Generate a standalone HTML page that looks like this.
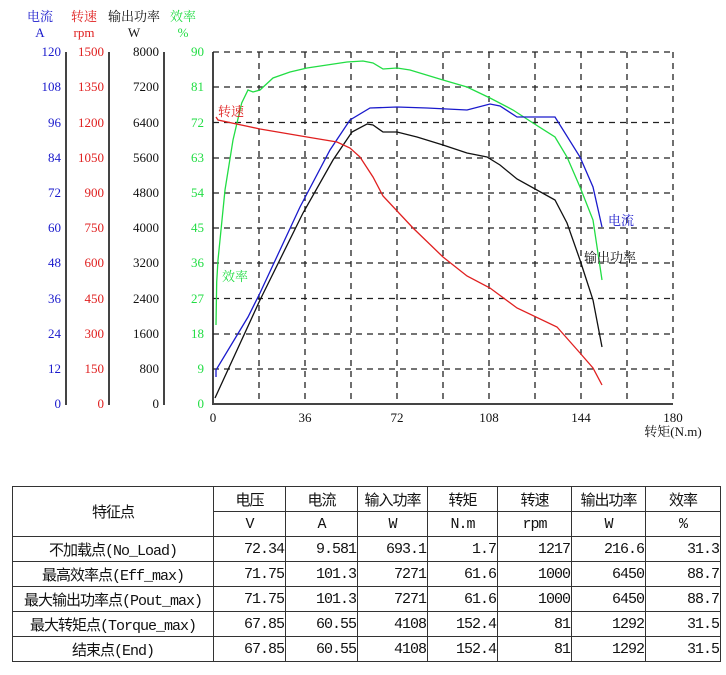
<!DOCTYPE html>
<html><head><meta charset="utf-8"><style>
body{margin:0;background:#fff;width:726px;height:675px;overflow:hidden;position:relative}
svg{position:absolute;left:0;top:0}
table{position:absolute;left:12px;top:486px;border-collapse:collapse;table-layout:fixed;width:708px;font-family:"Liberation Mono","Noto Sans CJK SC",monospace;font-size:15px;color:#111}
td{border:1px solid #333;height:24px;padding:0 1px;text-align:right;white-space:nowrap;letter-spacing:-1px;overflow:hidden}
td.c{text-align:center}
</style></head><body>
<svg width="726" height="470" font-family="'Liberation Serif','Noto Serif CJK SC',serif" font-size="13">
<g font-size="13" text-anchor="middle">
<text x="40" y="21" fill="#1a1acc">电流</text><text x="40" y="37" fill="#1a1acc">A</text>
<text x="84" y="21" fill="#e02020">转速</text><text x="84" y="37" fill="#e02020">rpm</text>
<text x="134" y="21" fill="#111">输出功率</text><text x="134" y="37" fill="#111">W</text>
<text x="183" y="21" fill="#22dd44">效率</text><text x="183" y="37" fill="#22dd44">%</text>
</g>
<g stroke="#444" stroke-width="2"><line x1="66" y1="52" x2="66" y2="405"/><line x1="109" y1="52" x2="109" y2="405"/><line x1="164" y1="52" x2="164" y2="405"/><line x1="213" y1="52" x2="213" y2="405"/><line x1="212" y1="404" x2="673" y2="404"/></g>
<g stroke="#222" stroke-width="1.3" stroke-dasharray="6,5">
<line x1="213" y1="52" x2="673" y2="52"/><line x1="213" y1="87" x2="673" y2="87"/><line x1="213" y1="122.5" x2="673" y2="122.5"/><line x1="213" y1="158" x2="673" y2="158"/><line x1="213" y1="193" x2="673" y2="193"/><line x1="213" y1="228" x2="673" y2="228"/><line x1="213" y1="263" x2="673" y2="263"/><line x1="213" y1="298.5" x2="673" y2="298.5"/><line x1="213" y1="334" x2="673" y2="334"/><line x1="213" y1="369" x2="673" y2="369"/>
<line x1="259" y1="52" x2="259" y2="404"/><line x1="305" y1="52" x2="305" y2="404"/><line x1="351" y1="52" x2="351" y2="404"/><line x1="397" y1="52" x2="397" y2="404"/><line x1="443" y1="52" x2="443" y2="404"/><line x1="489" y1="52" x2="489" y2="404"/><line x1="535" y1="52" x2="535" y2="404"/><line x1="581" y1="52" x2="581" y2="404"/><line x1="627" y1="52" x2="627" y2="404"/><line x1="673" y1="52" x2="673" y2="404"/>
</g>
<g text-anchor="end">
<g fill="#1a1acc"><text x="61" y="56">120</text><text x="61" y="91">108</text><text x="61" y="127">96</text><text x="61" y="162">84</text><text x="61" y="197">72</text><text x="61" y="232">60</text><text x="61" y="267">48</text><text x="61" y="303">36</text><text x="61" y="338">24</text><text x="61" y="373">12</text><text x="61" y="408">0</text></g>
<g fill="#e02020"><text x="104" y="56">1500</text><text x="104" y="91">1350</text><text x="104" y="127">1200</text><text x="104" y="162">1050</text><text x="104" y="197">900</text><text x="104" y="232">750</text><text x="104" y="267">600</text><text x="104" y="303">450</text><text x="104" y="338">300</text><text x="104" y="373">150</text><text x="104" y="408">0</text></g>
<g fill="#111"><text x="159" y="56">8000</text><text x="159" y="91">7200</text><text x="159" y="127">6400</text><text x="159" y="162">5600</text><text x="159" y="197">4800</text><text x="159" y="232">4000</text><text x="159" y="267">3200</text><text x="159" y="303">2400</text><text x="159" y="338">1600</text><text x="159" y="373">800</text><text x="159" y="408">0</text></g>
<g fill="#22dd44"><text x="204" y="56">90</text><text x="204" y="91">81</text><text x="204" y="127">72</text><text x="204" y="162">63</text><text x="204" y="197">54</text><text x="204" y="232">45</text><text x="204" y="267">36</text><text x="204" y="303">27</text><text x="204" y="338">18</text><text x="204" y="373">9</text><text x="204" y="408">0</text></g>
</g>
<g text-anchor="middle" fill="#111"><text x="213" y="422">0</text><text x="305" y="422">36</text><text x="397" y="422">72</text><text x="489" y="422">108</text><text x="581" y="422">144</text><text x="673" y="422">180</text><text x="673" y="436">转矩(N.m)</text></g>
<g fill="none" stroke-width="1.3">
<polyline stroke="#22dd44" points="216,325 216.7,282 218,260 225,190 233,140 241.7,103 248,90 253,92 260,90 273,78 290,72 307,68 327,65 347,62 363,61 373,63 383,69 397,68 410,70 443,80 467,87 490,98 513,110 533,123 555,137 567,157 580,187 593,220 602,280"/>
<polyline stroke="#1a1acc" points="216,377 216,370 248,317 260,293 300,207 330,150 350,120 370,108 397,107 427,108 467,110 490,104 500,106 517,117 555,117 580,157 593,187 602,227"/>
<polyline stroke="#111" points="215,398 260,300 303,213 333,160 352,132 367,124 373,125 383,132 397,132 417,137 443,145 467,153 487,157 500,165 517,179 555,200 567,223 580,260 593,300 602,347"/>
<polyline stroke="#e02020" points="216,117 218,120 260,129 307,137 337,142 350,148 360,157 373,177 383,196 413,228 443,257 467,276 490,288 517,308 557,327 580,353 593,368 602,385"/>
</g>
<text x="218" y="116" fill="#e02020">转速</text>
<text x="222" y="281" fill="#22dd44">效率</text>
<text x="608" y="225" fill="#1a1acc">电流</text>
<text x="584" y="262" fill="#111">输出功率</text>
</svg>
<table>
<colgroup><col style="width:201px"><col style="width:72px"><col style="width:72px"><col style="width:70px"><col style="width:70px"><col style="width:74px"><col style="width:74px"><col style="width:75px"></colgroup>
<tr><td class="c" rowspan="2">特征点</td><td class="c">电压</td><td class="c">电流</td><td class="c">输入功率</td><td class="c">转矩</td><td class="c">转速</td><td class="c">输出功率</td><td class="c">效率</td></tr>
<tr><td class="c">V</td><td class="c">A</td><td class="c">W</td><td class="c">N.m</td><td class="c">rpm</td><td class="c">W</td><td class="c">%</td></tr>
<tr><td class="c">不加载点(No_Load)</td><td>72.34</td><td>9.581</td><td>693.1</td><td>1.7</td><td>1217</td><td>216.6</td><td>31.3</td></tr>
<tr><td class="c">最高效率点(Eff_max)</td><td>71.75</td><td>101.3</td><td>7271</td><td>61.6</td><td>1000</td><td>6450</td><td>88.7</td></tr>
<tr><td class="c">最大输出功率点(Pout_max)</td><td>71.75</td><td>101.3</td><td>7271</td><td>61.6</td><td>1000</td><td>6450</td><td>88.7</td></tr>
<tr><td class="c">最大转矩点(Torque_max)</td><td>67.85</td><td>60.55</td><td>4108</td><td>152.4</td><td>81</td><td>1292</td><td>31.5</td></tr>
<tr><td class="c">结束点(End)</td><td>67.85</td><td>60.55</td><td>4108</td><td>152.4</td><td>81</td><td>1292</td><td>31.5</td></tr>
</table>
</body></html>
